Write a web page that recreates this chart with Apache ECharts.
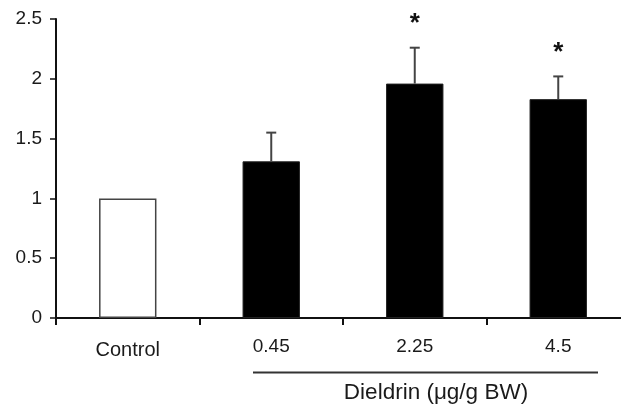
<!DOCTYPE html>
<html>
<head>
<meta charset="utf-8">
<script src="https://cdn.jsdelivr.net/npm/echarts@6/dist/echarts.min.js"></script>
<style>
html,body{margin:0;padding:0;background:#fff;}
#chart{width:621px;height:406px;}
</style>
</head>
<body>
<div id="chart"></div>
<script>
const categories = ['Control', '0.45', '2.25', '4.5'];
const means = [1.0, 1.31, 1.96, 1.83];
const errors = [0, 0.24, 0.30, 0.19];
const stars = ['', '', '*', '*'];
const yMin = 0, yMax = 2.5, yStep = 0.5;
const groupLabel = 'Dieldrin (\u03bcg/g BW)';

const FONT = '"Liberation Sans", Arial, Helvetica, sans-serif';
const chart = echarts.init(document.getElementById('chart'), null, {renderer: 'canvas'});

const barData = means.map((v, i) => ({
  value: v,
  itemStyle: i === 0
    ? {color: '#ffffff', borderColor: '#444', borderWidth: 1.5}
    : {color: '#000000', borderColor: '#222', borderWidth: 1}
}));

const errData = means.map((v, i) => [i, v, errors[i]]);

chart.setOption({
  animation: false,
  backgroundColor: '#ffffff',
  grid: {left: 56, width: 574, top: 19, bottom: 88, containLabel: false, outerBoundsMode: 'none'},
  xAxis: {
    type: 'category',
    data: categories,
    boundaryGap: true,
    axisLine: {show: true, lineStyle: {color: '#111', width: 2}},
    axisTick: {show: true, length: 7, lineStyle: {color: '#111', width: 2}},
    axisLabel: {
      color: '#1a1a1a', fontSize: 19, fontFamily: FONT, margin: 19, interval: 0,
      formatter: function (v, i) { return i === 0 ? '{c|' + v + '}' : v; },
      rich: {c: {fontSize: 20, fontFamily: FONT, color: '#1a1a1a', padding: [3, 0, 0, 0]}}
    },
    splitLine: {show: false}
  },
  yAxis: {
    type: 'value',
    min: yMin, max: yMax, interval: yStep,
    axisLine: {show: true, lineStyle: {color: '#111', width: 2}},
    axisTick: {show: true, inside: false, length: 6, lineStyle: {color: '#111', width: 1.5}},
    axisLabel: {color: '#1a1a1a', fontSize: 19, fontFamily: FONT, margin: 14},
    splitLine: {show: false}
  },
  series: [
    {
      type: 'bar',
      data: barData,
      barWidth: '40%',
      z: 2
    },
    {
      type: 'custom',
      data: errData,
      z: 3,
      renderItem: function (params, api) {
        const idx = api.value(0);
        const m = api.value(1);
        const e = api.value(2);
        const children = [];
        const top = api.coord([idx, m + e]);
        const base = api.coord([idx, m]);
        if (e > 0) {
          children.push({
            type: 'line',
            shape: {x1: base[0], y1: base[1], x2: top[0], y2: top[1]},
            style: {stroke: '#444', lineWidth: 2}
          });
          children.push({
            type: 'line',
            shape: {x1: top[0] - 5, y1: top[1], x2: top[0] + 5, y2: top[1]},
            style: {stroke: '#444', lineWidth: 2}
          });
        }
        const s = stars[params.dataIndex];
        if (s) {
          children.push({
            type: 'text',
            style: {
              text: s, x: top[0], y: top[1] - 24,
              textAlign: 'center', textVerticalAlign: 'middle',
              font: 'bold 26px ' + FONT, fill: '#111'
            }
          });
        }
        return {type: 'group', children: children};
      }
    }
  ],
  graphic: [
    {
      type: 'line',
      shape: {x1: 253, y1: 372.5, x2: 598, y2: 372.5},
      style: {stroke: '#333', lineWidth: 2}
    },
    {
      type: 'text',
      style: {
        text: groupLabel, x: 436, y: 393,
        textAlign: 'center', textVerticalAlign: 'middle',
        font: '22.5px ' + FONT, fill: '#1a1a1a'
      }
    }
  ]
});
</script>
</body>
</html>
